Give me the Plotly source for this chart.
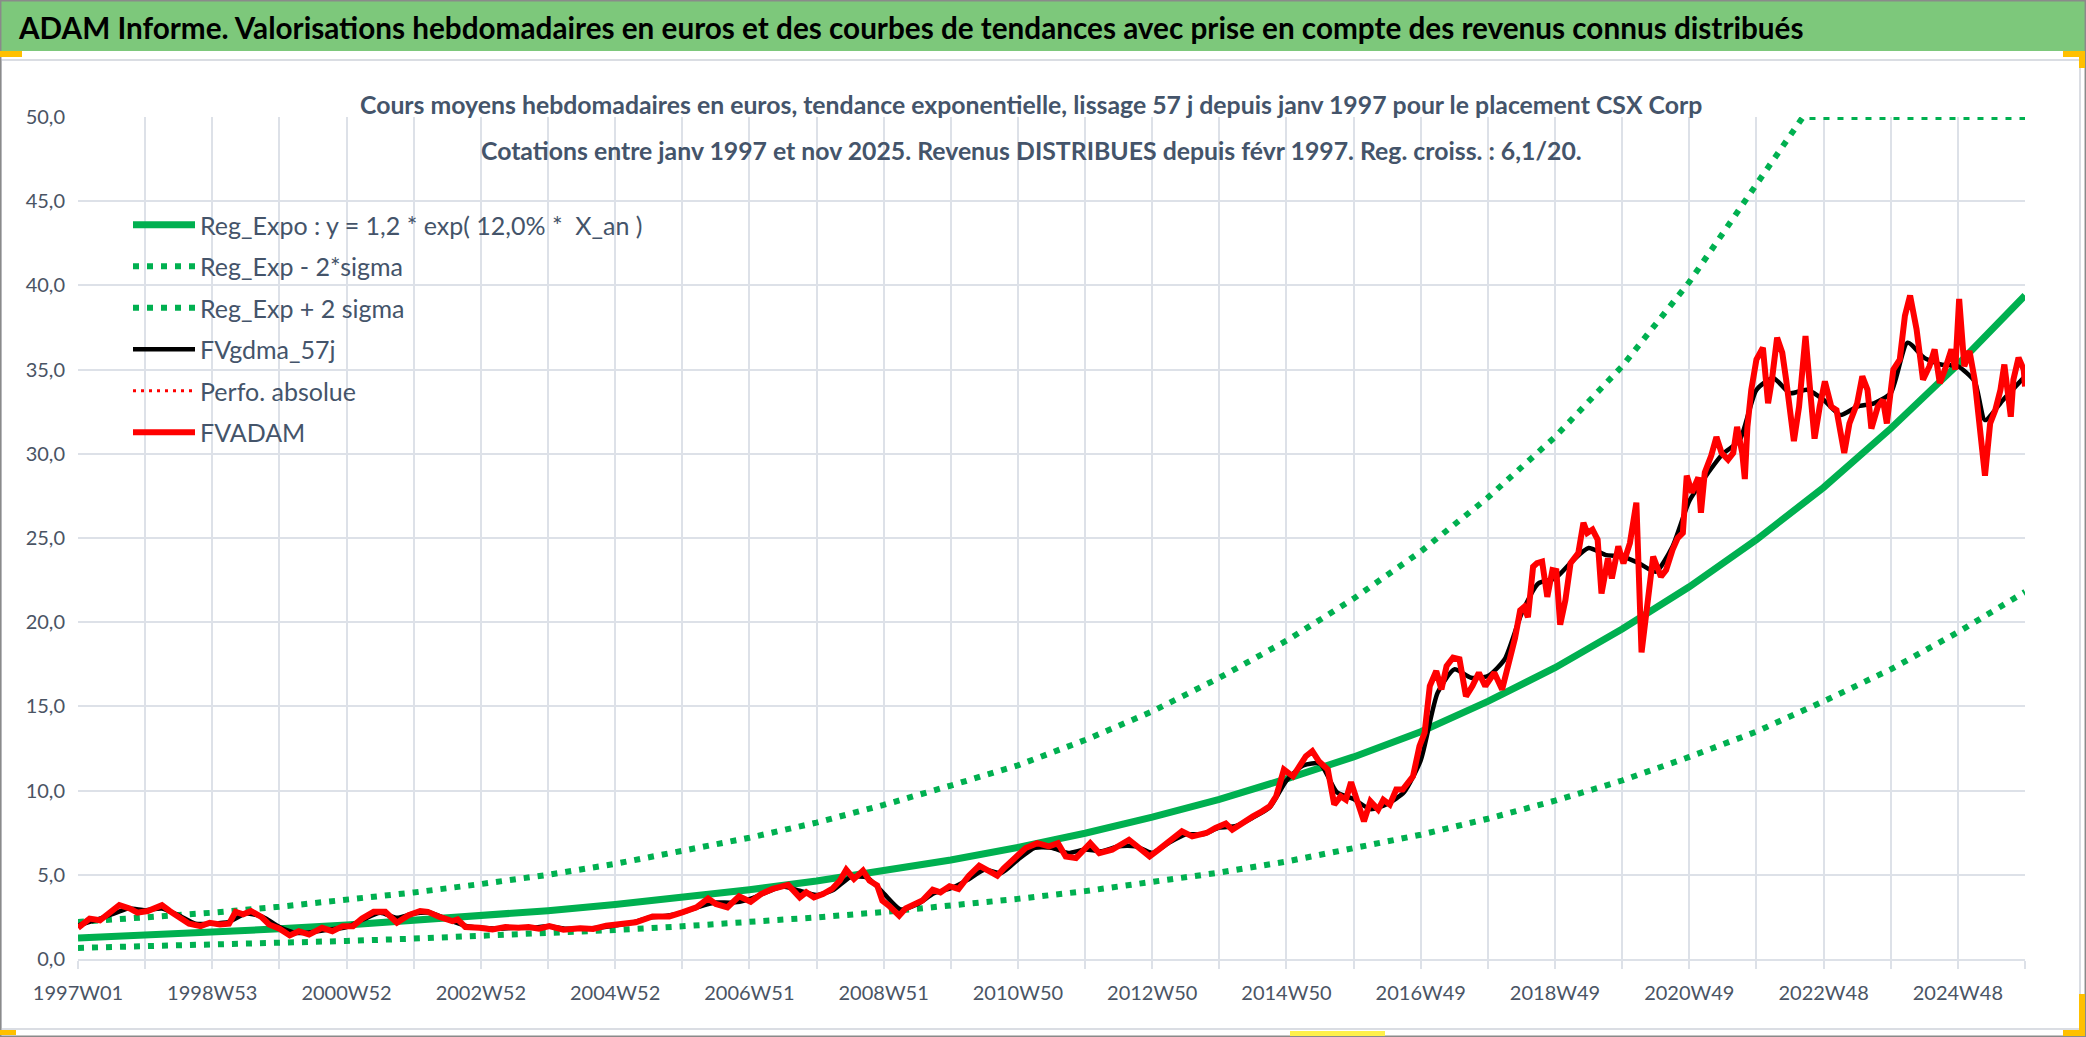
import plotly.graph_objects as go

# ---------------- data ----------------
# x = week index counted from 1997W01 (0) ; 1508 = nov 2025
YEAR_WEEKS = [0, 52, 104, 156, 208, 260, 312, 364, 416, 468, 520, 572, 624, 676, 728,
              780, 832, 884, 936, 988, 1040, 1092, 1144, 1196, 1248, 1300, 1352, 1404, 1456, 1508]
REG_EXPO = [1.25, 1.41, 1.58, 1.79, 2.02, 2.27, 2.56, 2.87, 3.24, 3.65, 4.11, 4.63, 5.22, 5.88, 6.63,
            7.47, 8.42, 9.48, 10.7, 12.0, 13.5, 15.3, 17.3, 19.6, 22.1, 24.9, 28.0, 31.5, 35.3, 39.4]
REG_MINUS = [0.66, 0.75, 0.84, 0.95, 1.07, 1.21, 1.36, 1.53, 1.72, 1.94, 2.19, 2.47, 2.79, 3.15, 3.57,
             4.03, 4.55, 5.13, 5.79, 6.54, 7.38, 8.33, 9.40, 10.6, 12.0, 13.5, 15.3, 17.2, 19.4, 21.8]
PLUS_WEEKS = [0, 52, 104, 156, 208, 260, 312, 364, 416, 468, 520, 572, 624, 676, 728,
              780, 832, 884, 936, 988, 1040, 1092, 1144, 1196, 1248, 1300, 1336, 1404, 1456, 1508]
REG_PLUS = [2.2, 2.45, 2.75, 3.1, 3.5, 3.95, 4.45, 5.0, 5.65, 6.4, 7.2, 8.1, 9.15, 10.3, 11.5,
            13.0, 14.7, 16.7, 18.9, 21.4, 24.2, 27.4, 31.0, 35.2, 40.2, 46.0, 50.0, 50.0, 50.0, 50.0]

GDMA_WEEKS = [0, 13, 26, 39, 52, 65, 78, 91, 104, 117, 130, 143, 156, 169, 182, 195, 208, 221, 234,
              247, 260, 273, 286, 299, 312, 325, 338, 351, 364, 377, 390, 403, 416, 429, 442, 455,
              468, 481, 494, 507, 520, 533, 546, 559, 572, 585, 598, 611, 624, 637, 650, 663, 676,
              689, 702, 715, 728, 741, 754, 767, 780, 793, 806, 819, 832, 845, 858, 871, 884, 897,
              910, 923, 936, 949, 962, 975, 988, 1001, 1014, 1027, 1040, 1053, 1066, 1079, 1092,
              1105, 1118, 1131, 1144, 1157, 1170, 1183, 1196, 1209, 1222, 1235, 1248, 1261, 1274,
              1287, 1300, 1313, 1326, 1339, 1352, 1365, 1378, 1391, 1404, 1417, 1430, 1443, 1456,
              1469, 1477, 1491, 1508]
GDMA_VALUES = [2.0, 2.3, 2.65, 3.0, 2.9, 3.0, 2.6, 2.1, 2.1, 2.2, 2.7, 2.5, 1.9, 1.55, 1.6, 1.75, 1.9,
               2.35, 2.75, 2.45, 2.7, 2.75, 2.35, 2.0, 1.85, 1.8, 1.85, 1.85, 1.95, 1.8, 1.8, 1.85,
               2.0, 2.15, 2.45, 2.55, 2.75, 3.1, 3.35, 3.35, 3.55, 3.95, 4.3, 4.05, 3.8, 4.1, 4.85,
               4.85, 3.9, 2.95, 3.25, 3.9, 4.2, 4.7, 5.3, 5.1, 5.9, 6.6, 6.6, 6.3, 6.5, 6.4, 6.7,
               6.7, 6.3, 6.9, 7.4, 7.4, 7.8, 7.9, 8.4, 9.0, 10.6, 11.5, 11.6, 9.9, 9.5, 8.9, 9.2,
               9.9, 11.8, 15.8, 17.2, 16.7, 16.8, 17.8, 20.5, 22.3, 22.6, 23.6, 24.4, 24.0, 23.9,
               23.5, 23.0, 24.5, 27.2, 28.7, 30.0, 30.8, 33.8, 34.5, 33.6, 33.8, 33.2, 32.3, 32.8,
               33.0, 33.6, 36.6, 35.7, 35.3, 35.2, 34.3, 32.0, 33.2, 34.6]

ADAM_WEEKS = [0, 9, 17, 24, 32, 40, 46, 54, 59, 65, 71, 79, 86, 95, 102, 110, 117, 122, 128, 134,
              142, 148, 156, 164, 171, 179, 189, 197, 205, 213, 220, 229, 238, 247, 256, 265, 271,
              280, 290, 294, 300, 311, 321, 331, 341, 349, 357, 365, 376, 389, 399, 409, 422, 432,
              445, 458, 468, 479, 488, 494, 503, 512, 521, 529, 538, 550, 559, 564, 570, 577, 584,
              590, 595, 601, 608, 613, 619, 623, 628, 636, 641, 646, 654, 662, 668, 675, 682, 690,
              698, 705, 712, 717, 724, 729, 734, 743, 752, 759, 765, 773, 784, 791, 801, 814, 822,
              830, 837, 848, 855, 863, 874, 881, 889, 894, 902, 910, 917, 923, 928, 934, 941, 947,
              951, 956, 961, 968, 973, 978, 982, 986, 990, 996, 1001, 1007, 1011, 1016, 1021, 1026,
              1034, 1039, 1043, 1047, 1052, 1056, 1060, 1065, 1070, 1075, 1080, 1085, 1090, 1097,
              1103, 1108, 1113, 1117, 1120, 1123, 1127, 1130, 1134, 1138, 1142, 1145, 1148, 1152,
              1156, 1162, 1166, 1169, 1173, 1177, 1180, 1185, 1188, 1193, 1197, 1202, 1207, 1211,
              1213, 1216, 1220, 1226, 1230, 1235, 1239, 1243, 1246, 1250, 1255, 1257, 1260, 1265,
              1269, 1273, 1278, 1282, 1285, 1289, 1291, 1293, 1296, 1300, 1305, 1309, 1312, 1316,
              1320, 1323, 1329, 1333, 1338, 1342, 1345, 1349, 1353, 1358, 1362, 1368, 1372, 1378,
              1382, 1386, 1389, 1394, 1398, 1401, 1406, 1411, 1415, 1419, 1424, 1429, 1434, 1438,
              1442, 1446, 1451, 1454, 1457, 1461, 1465, 1469, 1472, 1477, 1481, 1485, 1489, 1492,
              1497, 1499, 1503, 1507, 1508]
ADAM_VALUES = [1.85, 2.4, 2.3, 2.75, 3.2, 3.0, 2.75, 2.85, 3.0, 3.2, 2.85, 2.5, 2.1, 1.95, 2.15, 2.05,
               2.1, 2.8, 2.65, 2.85, 2.5, 2.05, 1.8, 1.4, 1.65, 1.45, 1.85, 1.65, 1.95, 1.95, 2.4,
               2.8, 2.8, 2.15, 2.6, 2.85, 2.8, 2.5, 2.25, 2.35, 1.9, 1.85, 1.75, 1.9, 1.85, 1.9, 1.8,
               1.95, 1.74, 1.82, 1.78, 1.98, 2.08, 2.18, 2.53, 2.53, 2.77, 3.07, 3.6, 3.27, 3.07,
               3.72, 3.4, 3.86, 4.16, 4.4, 3.66, 3.96, 3.66, 3.86, 4.16, 4.65, 5.3, 4.75, 5.25, 4.65,
               4.36, 3.47, 3.17, 2.57, 3.0, 3.2, 3.47, 4.12, 3.96, 4.32, 4.16, 4.95, 5.54, 5.25, 4.95,
               5.39, 5.84, 6.2, 6.59, 6.88, 6.69, 6.88, 6.09, 6.0, 6.88, 6.29, 6.49, 7.08, 6.59, 6.09,
               6.49, 7.18, 7.58, 7.28, 7.48, 7.78, 8.04, 7.68, 8.12, 8.47, 8.77, 9.07, 9.66, 11.25,
               10.85, 11.65, 12.04, 12.34, 11.75, 11.25, 9.17, 9.66, 9.46, 10.5, 9.46, 8.17, 9.37,
               8.87, 9.46, 9.17, 10.06, 10.06, 10.85, 12.64, 13.43, 16.21, 17.1, 16.01, 17.4, 17.9,
               17.8, 15.6, 16.21, 17.0, 16.2, 17.0, 16.0, 17.5, 19.05, 20.7, 20.9, 20.3, 23.3, 23.5,
               23.6, 21.5, 23.1, 23.05, 19.85, 21.3, 23.5, 24.1, 25.9, 25.3, 25.5, 24.9, 21.7, 23.8,
               22.6, 24.5, 23.5, 24.7, 27.1, 18.2, 19.35, 21.7, 23.9, 22.7, 23.1, 24.3, 25.0, 25.3,
               28.7, 27.7, 28.6, 26.5, 28.9, 29.9, 31.0, 30.05, 29.65, 30.05, 31.6, 30.05, 28.5,
               31.6, 33.8, 35.6, 36.3, 33.0, 34.4, 36.9, 36.0, 34.4, 30.75, 32.8, 37.0, 33.4, 30.9,
               32.8, 34.3, 32.8, 32.6, 30.05, 31.8, 33.0, 34.6, 33.8, 31.5, 32.8, 33.2, 31.8, 35.0,
               35.6, 38.2, 39.4, 37.4, 34.4, 35.2, 36.2, 34.2, 35.0, 36.2, 35.0, 39.2, 35.2, 36.1,
               34.4, 32.0, 28.7, 31.8, 32.6, 33.8, 35.3, 32.2, 34.4, 35.7, 35.0, 34.0]

GRID_WEEKS = [0, 52, 104, 156, 208, 260, 312, 364, 416, 468, 520, 572, 624, 676, 728, 780, 832,
              884, 936, 988, 1040, 1092, 1144, 1196, 1248, 1300, 1352, 1404, 1456, 1508]
X_LABELS = ["1997W01", "", "1998W53", "", "2000W52", "", "2002W52", "", "2004W52", "", "2006W51", "",
            "2008W51", "", "2010W50", "", "2012W50", "", "2014W50", "", "2016W49", "", "2018W49", "",
            "2020W49", "", "2022W48", "", "2024W48", ""]
Y_TICKS = [0, 5, 10, 15, 20, 25, 30, 35, 40, 45, 50]
Y_LABELS = ["0,0", "5,0", "10,0", "15,0", "20,0", "25,0", "30,0", "35,0", "40,0", "45,0", "50,0"]

SERIES_NAMES = ["Reg_Expo : y = 1,2 * exp( 12,0% * \u00a0X_an )", "Reg_Exp - 2*sigma",
                "Reg_Exp + 2 sigma", "FVgdma_57j", "Perfo. absolue", "FVADAM"]

TITLE = ("ADAM Informe. Valorisations hebdomadaires en euros et des courbes de tendances "
         "avec prise en compte des revenus connus distribués")
SUB1 = ("Cours moyens hebdomadaires en euros, tendance exponentielle, lissage 57 j depuis "
        "janv 1997 pour le placement CSX Corp")
SUB2 = ("Cotations entre janv 1997 et nov 2025. Revenus DISTRIBUES depuis févr 1997. "
        "Reg. croiss. : 6,1/20.")

# ---------------- layout geometry ----------------
W, H = 2086, 1037
L, R, T, B = 78, 2025, 117, 959
PW, PH = R - L, B - T


def px(x):
    return (x - L) / PW


def py(y):
    return (B - y) / PH


GREEN = "#00B050"
RED = "#FF0000"
GRID = "#DDE1E8"
TXT = "#4A5464"
FONT = "Lato"

fig = go.Figure()
fig.add_trace(go.Scatter(x=YEAR_WEEKS, y=REG_EXPO, name=SERIES_NAMES[0], mode="lines",
                         line=dict(color=GREEN, width=7), legendgroup="a"))
fig.add_trace(go.Scatter(x=YEAR_WEEKS, y=REG_MINUS, name=SERIES_NAMES[1], mode="lines",
                         line=dict(color=GREEN, width=6, dash="6px,8px"), legendgroup="b"))
fig.add_trace(go.Scatter(x=PLUS_WEEKS, y=REG_PLUS, name=SERIES_NAMES[2], mode="lines",
                         line=dict(color=GREEN, width=6, dash="6px,8px"), legendgroup="c"))
fig.add_trace(go.Scatter(x=GDMA_WEEKS, y=GDMA_VALUES, name=SERIES_NAMES[3], mode="lines",
                         line=dict(color="black", width=4.5, shape="spline", smoothing=0.6),
                         legendgroup="d"))
fig.add_trace(go.Scatter(x=[None], y=[None], name=SERIES_NAMES[4], mode="lines",
                         line=dict(color=RED, width=3, dash="3px,5px"), legendgroup="e"))
fig.add_trace(go.Scatter(x=ADAM_WEEKS, y=ADAM_VALUES, name=SERIES_NAMES[5], mode="lines",
                         line=dict(color=RED, width=6), legendgroup="f"))

shapes = [
    # green title band
    dict(type="rect", xref="paper", yref="paper", x0=px(0), x1=px(W), y0=py(51), y1=py(0),
         fillcolor="#7DC87B", line=dict(width=0)),
    # chart area frame
    dict(type="rect", xref="paper", yref="paper", x0=px(1), x1=px(2080), y0=py(1029), y1=py(60),
         fillcolor="rgba(0,0,0,0)", line=dict(color="#DADDE3", width=2)),
    # outer border
    dict(type="rect", xref="paper", yref="paper", x0=px(0.7), x1=px(W - 0.7), y0=py(H - 0.7),
         y1=py(0.7), fillcolor="rgba(0,0,0,0)", line=dict(color="#8A8A8A", width=1.5)),
]
for (x0, y0, x1, y1, c) in [(0, 51, 22, 57, "#FFC000"), (2063, 51, 2085, 57, "#FFC000"),
                            (2079, 51, 2085, 68, "#FFC000"), (2079, 994, 2085, 1036, "#FFC000"),
                            (2063, 1030, 2085, 1036, "#FFC000"), (0, 1030, 16, 1035, "#FFC000"),
                            (1290, 1031, 1385, 1036, "#FFF04A")]:
    shapes.append(dict(type="rect", xref="paper", yref="paper", x0=px(x0), x1=px(x1),
                       y0=py(y1), y1=py(y0), fillcolor=c, line=dict(width=0)))

annotations = [
    dict(text="<b>" + TITLE + "</b>", xref="paper", yref="paper", x=px(16), y=py(27),
         xanchor="left", yanchor="middle", showarrow=False,
         font=dict(family=FONT, size=29.7, color="black")),
    dict(text="<b>" + SUB1 + "</b>", xref="paper", yref="paper", x=px(1031), y=py(104),
         xanchor="center", yanchor="middle", showarrow=False,
         font=dict(family=FONT, size=24.8, color="#44546A")),
    dict(text="<b>" + SUB2 + "</b>", xref="paper", yref="paper", x=px(1031), y=py(150),
         xanchor="center", yanchor="middle", showarrow=False,
         font=dict(family=FONT, size=24.8, color="#44546A")),
]

fig.update_layout(
    width=W, height=H,
    margin=dict(l=L, r=W - R, t=T, b=H - B, pad=0),
    paper_bgcolor="white", plot_bgcolor="white",
    showlegend=True,
    legend=dict(x=px(128), y=py(202), xanchor="left", yanchor="top",
                bgcolor="rgba(0,0,0,0)", font=dict(family=FONT, size=25, color="#44546A"),
                itemwidth=62, tracegroupgap=6, traceorder="grouped"),
    shapes=shapes, annotations=annotations,
    xaxis=dict(range=[0, 1508], tickmode="array", tickvals=GRID_WEEKS, ticktext=X_LABELS,
               showgrid=True, gridcolor=GRID, gridwidth=1.5, zeroline=False,
               ticks="outside", ticklen=8, tickcolor=GRID, tickwidth=1.5,
               showline=True, linecolor=GRID, linewidth=2,
               tickfont=dict(family=FONT, size=20, color=TXT), ticklabelstandoff=7),
    yaxis=dict(range=[0, 50], tickmode="array", tickvals=Y_TICKS, ticktext=Y_LABELS,
               showgrid=True, gridcolor=GRID, gridwidth=1.5, zeroline=False, ticks="",
               tickfont=dict(family=FONT, size=20, color=TXT), ticklabelstandoff=12),
)

fig.write_html("out.html", config={"displayModeBar": False},
               post_script="document.body.style.margin='0';document.body.style.overflow='hidden';")
